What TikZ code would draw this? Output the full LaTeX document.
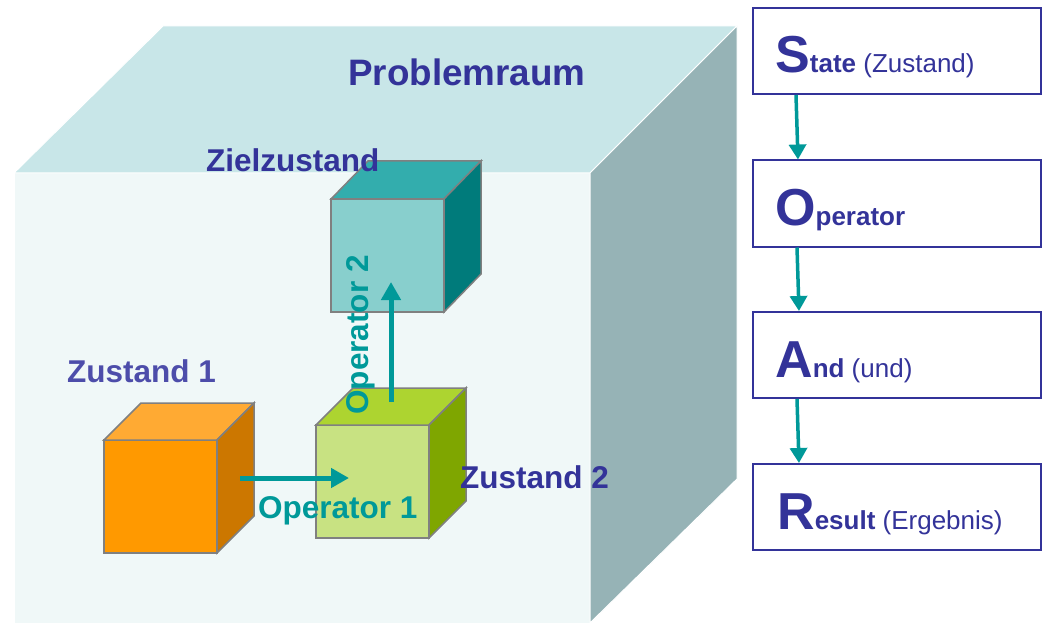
\documentclass[tikz,border=0pt]{standalone}
\usepackage{fontspec}
\setmainfont{Liberation Sans}
\usetikzlibrary{arrows.meta}
\definecolor{bigtop}{HTML}{C8E6E8}
\definecolor{bigfront}{HTML}{F0F8F8}
\definecolor{bigside}{HTML}{96B3B6}
\definecolor{orF}{HTML}{FF9900}
\definecolor{orT}{HTML}{FFAA33}
\definecolor{orS}{HTML}{CC7700}
\definecolor{grF}{HTML}{C8E282}
\definecolor{grT}{HTML}{ADD430}
\definecolor{grS}{HTML}{7FA600}
\definecolor{tlF}{HTML}{88CFCD}
\definecolor{tlT}{HTML}{33ADAD}
\definecolor{tlS}{HTML}{007B7B}
\definecolor{edge}{HTML}{808080}
\definecolor{teal}{HTML}{009999}
\definecolor{navy}{HTML}{333399}
\definecolor{navyl}{HTML}{4D4DAA}
\newcommand\soarbig{\fontsize{52}{52}\selectfont\bfseries}
\newcommand\soarsmb{\fontsize{26}{26}\selectfont\bfseries}
\newcommand\soarsmr{\fontsize{26}{26}\selectfont\mdseries}
\begin{document}
\begin{tikzpicture}[x=1pt,y=-1pt,
  bigface/.style={draw=white,line width=1pt,line join=miter},
  cubeface/.style={draw=edge,line width=1.5pt,line join=miter},
  frontface/.style={cubeface,rectangle,minimum size=113pt,inner sep=0pt,outer sep=0pt},
  lab/.style={anchor=base west,inner sep=0pt,font=\bfseries\fontsize{31.5}{31.5}\selectfont},
  arr/.style={draw=teal,line width=5pt,-{Triangle[length=18pt,width=19pt]},fill=teal},
  arrR/.style={draw=teal,line width=3.5pt,-{Triangle[length=15pt,width=17pt]},fill=teal},
  sbox/.style={draw=navy,line width=2pt,rectangle,minimum width=288pt,minimum height=86pt,inner sep=0pt},
  boxtext/.style={anchor=base west,inner sep=0pt,text=navy},
]
\useasboundingbox (0,0) rectangle (1045,623);

% big cube (problem space)
\coordinate (P1) at (14,173);
\coordinate (P2) at (163,26);
\coordinate (P3) at (737,26);
\coordinate (P4) at (590,173);
\coordinate (P5) at (737,479);
\coordinate (P6) at (590,623);
\coordinate (P7) at (14,623);
\filldraw[bigface,fill=bigfront] (P1) -- (P4) -- (P6) -- (P7) -- cycle;
\filldraw[bigface,fill=bigtop] (P1) -- (P2) -- (P3) -- (P4) -- cycle;
\filldraw[bigface,fill=bigside] (P4) -- (P3) -- (P5) -- (P6) -- cycle;

% small cubes
\node[frontface,fill=orF] (z1) at (160.5,496.5) {};
\filldraw[cubeface,fill=orT] (z1.north west) -- ++(37,-37) -- ++(113,0) -- (z1.north east) -- cycle;
\filldraw[cubeface,fill=orS] (z1.north east) -- ++(37,-37) -- ++(0,113) -- (z1.south east) -- cycle;

\node[frontface,fill=grF] (z2) at (372.5,481.5) {};
\filldraw[cubeface,fill=grT] (z2.north west) -- ++(37,-37) -- ++(113,0) -- (z2.north east) -- cycle;
\filldraw[cubeface,fill=grS] (z2.north east) -- ++(37,-37) -- ++(0,113) -- (z2.south east) -- cycle;

\node[frontface,fill=tlF] (zz) at (387.5,255.5) {};
\filldraw[cubeface,fill=tlT] (zz.north west) -- ++(37,-38) -- ++(113,0) -- (zz.north east) -- cycle;
\filldraw[cubeface,fill=tlS] (zz.north east) -- ++(37,-38) -- ++(0,113) -- (zz.south east) -- cycle;

% operators
\coordinate (o1s) at (240,478);
\coordinate (o1e) at (349,478);
\draw[arr] (o1s) -- (o1e);
\coordinate (o2s) at (391,402);
\coordinate (o2e) at (391,282);
\draw[arr] (o2s) -- (o2e);

% labels
\node[lab,text=navy,font=\bfseries\fontsize{36.8}{36.8}\selectfont] (pr) at (348,86) {Problemraum};
\node[lab,text=navy] (lzz) at (206,172) {Zielzustand};
\node[lab,text=navyl] (lz1) at (67,382) {Zustand 1};
\node[lab,text=navy] (lz2) at (460,488) {Zustand 2};
\node[lab,text=teal] (lo1) at (258,518) {Operator 1};
\node[inner sep=0pt,text=teal,rotate=90,font=\bfseries\fontsize{31.5}{31.5}\selectfont] (lo2) at (361,335) {Operator 2};

% SOAR boxes
\node[sbox] (b1) at (897,51) {};
\node[sbox] (b2) at (897,203.5) {};
\node[sbox] (b3) at (897,355) {};
\node[sbox] (b4) at (897,507) {};
\path (b1.west) ++(23,22) node[boxtext] (t1) {{\soarbig S}{\soarsmb tate}{\soarsmr\ (Zustand)}};
\path (b2.west) ++(23,22) node[boxtext] (t2) {{\soarbig O}{\soarsmb perator}};
\path (b3.west) ++(23,22) node[boxtext] (t3) {{\soarbig A}{\soarsmb nd}{\soarsmr\ (und)}};
\path (b4.west) ++(25,22) node[boxtext] (t4) {{\soarbig R}{\soarsmb esult}{\soarsmr\ (Ergebnis)}};
\draw[arrR] ([xshift=44pt]b1.south west) -- ([xshift=46pt]b2.north west);
\draw[arrR] ([xshift=45pt]b2.south west) -- ([xshift=47pt]b3.north west);
\draw[arrR] ([xshift=45pt]b3.south west) -- ([xshift=47pt]b4.north west);
\end{tikzpicture}
\end{document}
